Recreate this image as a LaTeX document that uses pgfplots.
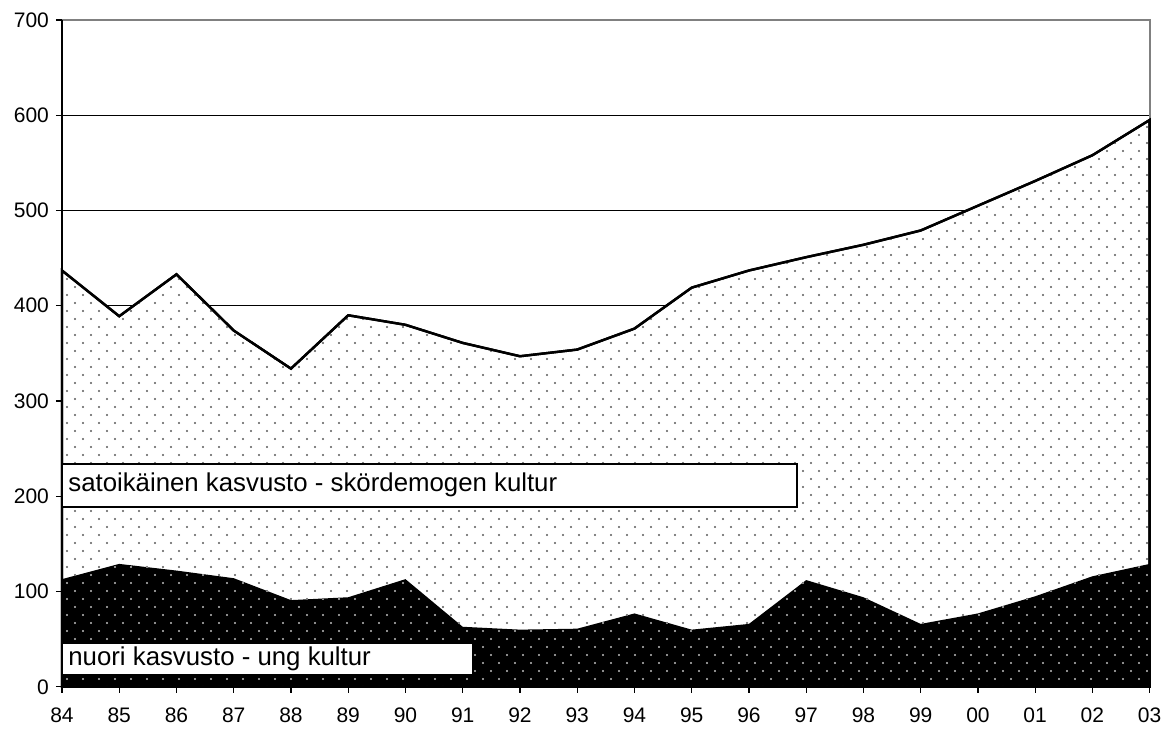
\documentclass[border=0pt]{standalone}
\usepackage{pgfplots}
\pgfplotsset{compat=1.18}
\usepackage{fontspec}
\setmainfont{Liberation Sans}
\usetikzlibrary{patterns}

% staggered dot grid, 8pt wide, rows 4pt apart
\pgfdeclarepatternformonly{sdots}{\pgfqpoint{0pt}{0pt}}{\pgfqpoint{8pt}{8pt}}{\pgfqpoint{8pt}{8pt}}{
  \pgfpathcircle{\pgfqpoint{2pt}{2pt}}{0.55pt}
  \pgfpathcircle{\pgfqpoint{6pt}{6pt}}{0.55pt}
  \pgfusepath{fill}
}

\begin{document}
\begin{tikzpicture}
\begin{axis}[
    scale only axis,
    width=544pt, height=333.5pt,
    xmin=0, xmax=19, ymin=0, ymax=700,
    axis x line*=bottom, axis y line*=left,
    axis line style={black, line width=0.8pt},
    axis on top,
    tick align=outside,
    major tick length=3pt,
    tick style={black, line width=0.6pt},
    xtick={0,...,19},
    xticklabels={84,85,86,87,88,89,90,91,92,93,94,95,96,97,98,99,00,01,02,03},
    ytick={0,100,...,700},
    ticklabel style={font=\fontsize{10.5}{12}\selectfont},
    /pgf/number format/assume math mode=true,
    xticklabel style={yshift=-4pt},
    clip=false,
]
% grid lines behind the areas
\pgfplotsinvokeforeach{100,200,300,400,500,600}{
  \draw[black, line width=0.5pt] (axis cs:0,#1) -- (axis cs:19,#1);
}
\draw[gray, line width=1pt] (axis cs:0,700) -- (axis cs:19,700) -- (axis cs:19,0);

% total (satoikainen + nuori)
\addplot[draw=black, line width=1.2pt, fill=white,
  postaction={pattern=sdots, pattern color=black!65}] coordinates {
  (0,437) (1,389) (2,433) (3,374) (4,334) (5,390) (6,380) (7,361) (8,347) (9,354)
  (10,376) (11,419) (12,437) (13,451) (14,464) (15,479) (16,505) (17,531) (18,558) (19,595)
} \closedcycle;

% nuori kasvusto
\addplot[draw=none, fill=black,
  postaction={pattern=sdots, pattern color=white!75!black}] coordinates {
  (0,113) (1,129) (2,122) (3,114) (4,91) (5,94) (6,113) (7,63) (8,60) (9,61)
  (10,77) (11,60) (12,66) (13,112) (14,94) (15,66) (16,77) (17,95) (18,116) (19,129)
} \closedcycle;

\draw[black, line width=1.2pt] (axis cs:19,0) -- (axis cs:19,129);

% labels
\draw[fill=white, line width=0.75pt] (axis cs:0,189) rectangle (axis cs:12.84,234);
\node[anchor=west, inner sep=3pt, font=\fontsize{12.9}{15}\selectfont] at (axis cs:0,211.5)
  {satoikäinen kasvusto - skördemogen kultur};
\draw[fill=white, line width=0.75pt] (axis cs:0,12.6) rectangle (axis cs:7.18,46);
\node[anchor=west, inner sep=3pt, font=\fontsize{12.9}{15}\selectfont] at (axis cs:0,29.3)
  {nuori kasvusto - ung kultur};

\coordinate (sw) at (rel axis cs:0,0);
\coordinate (ne) at (rel axis cs:1,1);
\end{axis}
\path (sw) ++(-31pt,-22pt) (ne) ++(9pt,10pt);
\end{tikzpicture}
\end{document}
